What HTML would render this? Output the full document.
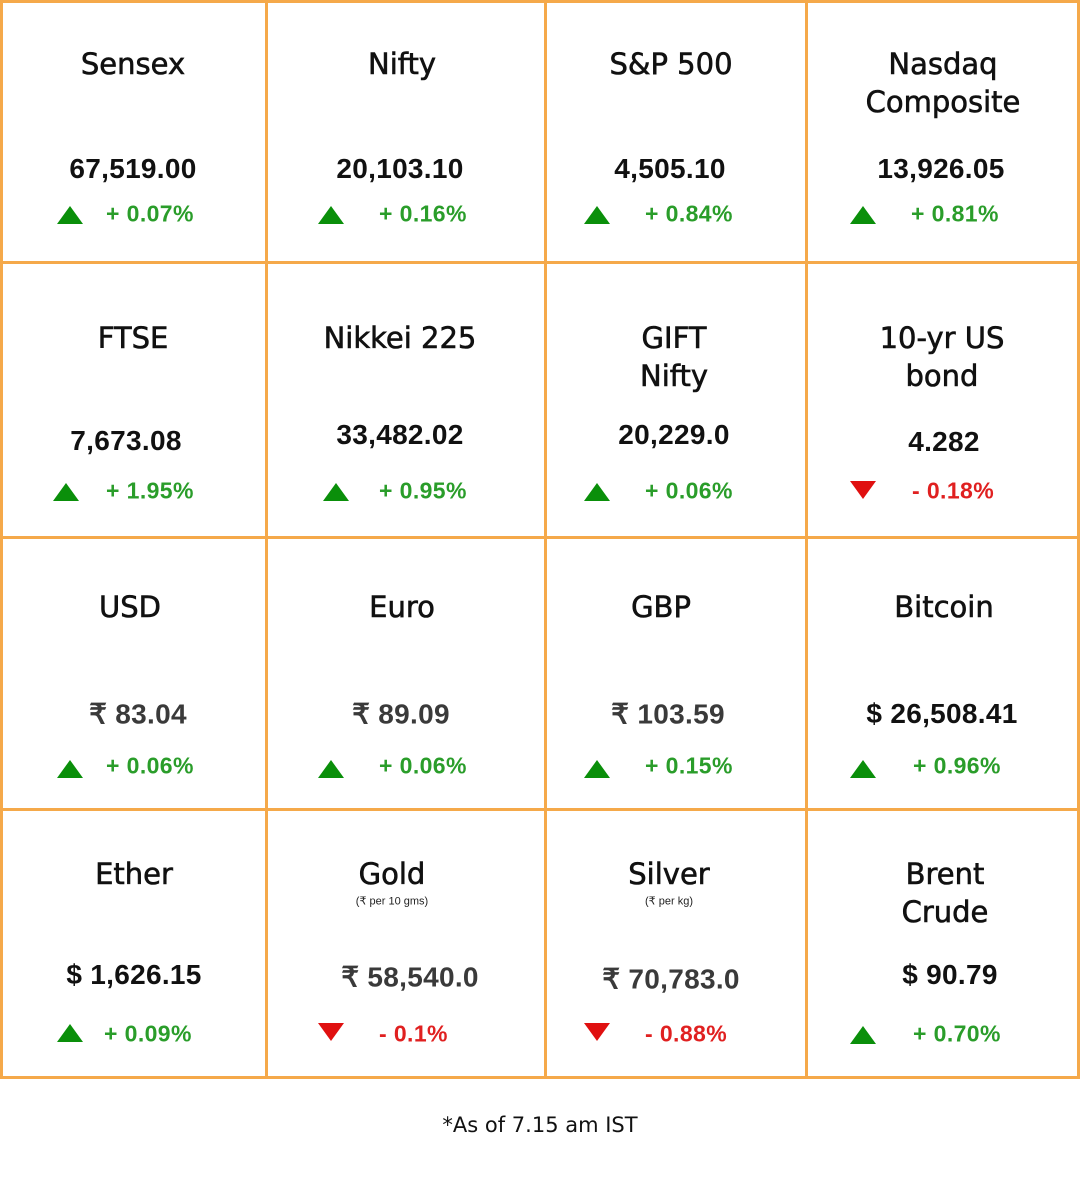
<!DOCTYPE html>
<html><head><meta charset="utf-8">
<style>
html,body{margin:0;padding:0;background:#fff;}
#root{position:relative;width:1080px;height:1180px;overflow:hidden;font-family:"Liberation Sans",sans-serif;}
.ln{position:absolute;background:#f5a94a;}
.t{position:absolute;transform:translate(-50%,-50%);white-space:nowrap;color:#111;text-align:center;}
.title{font-family:"DejaVu Sans",sans-serif;font-size:29px;line-height:38px;-webkit-text-stroke:0.6px #111;}
.val{font-size:28px;font-weight:bold;color:#111;letter-spacing:0.3px;}
.val.grey{color:#3a3a3a;}
.pct{position:absolute;transform:translateY(-50%);font-size:23px;font-weight:bold;white-space:nowrap;letter-spacing:0.4px;}
.up{color:#2a9d2a;} .dn{color:#e02020;}
.tri{position:absolute;width:0;height:0;transform:translate(-50%,-50%);}
.tri.u{border-left:13px solid transparent;border-right:13px solid transparent;border-bottom:18px solid #0a8f0a;}
.tri.d{border-left:13px solid transparent;border-right:13px solid transparent;border-top:18px solid #e01010;}
.sub{font-size:11px;color:#222;}
</style></head><body>
<div id="root">
<div class="ln" style="left:0;top:0;width:1080px;height:3px"></div>
<div class="ln" style="left:0;top:261px;width:1080px;height:3px"></div>
<div class="ln" style="left:0;top:536px;width:1080px;height:3px"></div>
<div class="ln" style="left:0;top:808px;width:1080px;height:3px"></div>
<div class="ln" style="left:0;top:1076px;width:1080px;height:3px"></div>
<div class="ln" style="left:0;top:0;width:3px;height:1079px"></div>
<div class="ln" style="left:265px;top:0;width:3px;height:1079px"></div>
<div class="ln" style="left:544px;top:0;width:3px;height:1079px"></div>
<div class="ln" style="left:805px;top:0;width:3px;height:1079px"></div>
<div class="ln" style="left:1077px;top:0;width:3px;height:1079px"></div>

<div class="t title" style="left:133px;top:64px">Sensex</div>
<div class="t val" style="left:133px;top:169px">67,519.00</div>
<div class="tri u" style="left:70px;top:215px"></div>
<div class="pct up" style="left:106px;top:214px">+ 0.07%</div>

<div class="t title" style="left:402px;top:64px">Nifty</div>
<div class="t val" style="left:400px;top:169px">20,103.10</div>
<div class="tri u" style="left:331px;top:215px"></div>
<div class="pct up" style="left:379px;top:214px">+ 0.16%</div>

<div class="t title" style="left:671px;top:64px">S&amp;P 500</div>
<div class="t val" style="left:670px;top:169px">4,505.10</div>
<div class="tri u" style="left:597px;top:215px"></div>
<div class="pct up" style="left:645px;top:214px">+ 0.84%</div>

<div class="t title" style="left:943px;top:83px">Nasdaq<br>Composite</div>
<div class="t val" style="left:941px;top:169px">13,926.05</div>
<div class="tri u" style="left:863px;top:215px"></div>
<div class="pct up" style="left:911px;top:214px">+ 0.81%</div>

<div class="t title" style="left:133px;top:338px">FTSE</div>
<div class="t val" style="left:126px;top:441px">7,673.08</div>
<div class="tri u" style="left:66px;top:492px"></div>
<div class="pct up" style="left:106px;top:491px">+ 1.95%</div>

<div class="t title" style="left:400px;top:338px">Nikkei 225</div>
<div class="t val" style="left:400px;top:435px">33,482.02</div>
<div class="tri u" style="left:336px;top:492px"></div>
<div class="pct up" style="left:379px;top:491px">+ 0.95%</div>

<div class="t title" style="left:674px;top:357px">GIFT<br>Nifty</div>
<div class="t val" style="left:674px;top:435px">20,229.0</div>
<div class="tri u" style="left:597px;top:492px"></div>
<div class="pct up" style="left:645px;top:491px">+ 0.06%</div>

<div class="t title" style="left:942px;top:357px">10-yr US<br>bond</div>
<div class="t val" style="left:944px;top:442px">4.282</div>
<div class="tri d" style="left:863px;top:490px"></div>
<div class="pct dn" style="left:912px;top:491px">- 0.18%</div>

<div class="t title" style="left:130px;top:607px">USD</div>
<div class="t val grey" style="left:138px;top:714px">₹ 83.04</div>
<div class="tri u" style="left:70px;top:769px"></div>
<div class="pct up" style="left:106px;top:766px">+ 0.06%</div>

<div class="t title" style="left:402px;top:607px">Euro</div>
<div class="t val grey" style="left:401px;top:714px">₹ 89.09</div>
<div class="tri u" style="left:331px;top:769px"></div>
<div class="pct up" style="left:379px;top:766px">+ 0.06%</div>

<div class="t title" style="left:661px;top:607px">GBP</div>
<div class="t val grey" style="left:668px;top:714px">₹ 103.59</div>
<div class="tri u" style="left:597px;top:769px"></div>
<div class="pct up" style="left:645px;top:766px">+ 0.15%</div>

<div class="t title" style="left:944px;top:607px">Bitcoin</div>
<div class="t val" style="left:942px;top:714px">$ 26,508.41</div>
<div class="tri u" style="left:863px;top:769px"></div>
<div class="pct up" style="left:913px;top:766px">+ 0.96%</div>

<div class="t title" style="left:134px;top:874px">Ether</div>
<div class="t val" style="left:134px;top:975px">$ 1,626.15</div>
<div class="tri u" style="left:70px;top:1033px"></div>
<div class="pct up" style="left:104px;top:1034px">+ 0.09%</div>

<div class="t title" style="left:392px;top:874px">Gold</div>
<div class="t sub" style="left:392px;top:901px">(₹ per 10 gms)</div>
<div class="t val grey" style="left:410px;top:977px">₹ 58,540.0</div>
<div class="tri d" style="left:331px;top:1032px"></div>
<div class="pct dn" style="left:379px;top:1034px">- 0.1%</div>

<div class="t title" style="left:669px;top:874px">Silver</div>
<div class="t sub" style="left:669px;top:901px">(₹ per kg)</div>
<div class="t val grey" style="left:671px;top:979px">₹ 70,783.0</div>
<div class="tri d" style="left:597px;top:1032px"></div>
<div class="pct dn" style="left:645px;top:1034px">- 0.88%</div>

<div class="t title" style="left:945px;top:893px">Brent<br>Crude</div>
<div class="t val" style="left:950px;top:975px">$ 90.79</div>
<div class="tri u" style="left:863px;top:1035px"></div>
<div class="pct up" style="left:913px;top:1034px">+ 0.70%</div>

<div class="t" style="left:540px;top:1125px;font-size:21px;color:#111;font-family:'DejaVu Sans',sans-serif">*As of 7.15 am IST</div>
</div>
</body></html>
